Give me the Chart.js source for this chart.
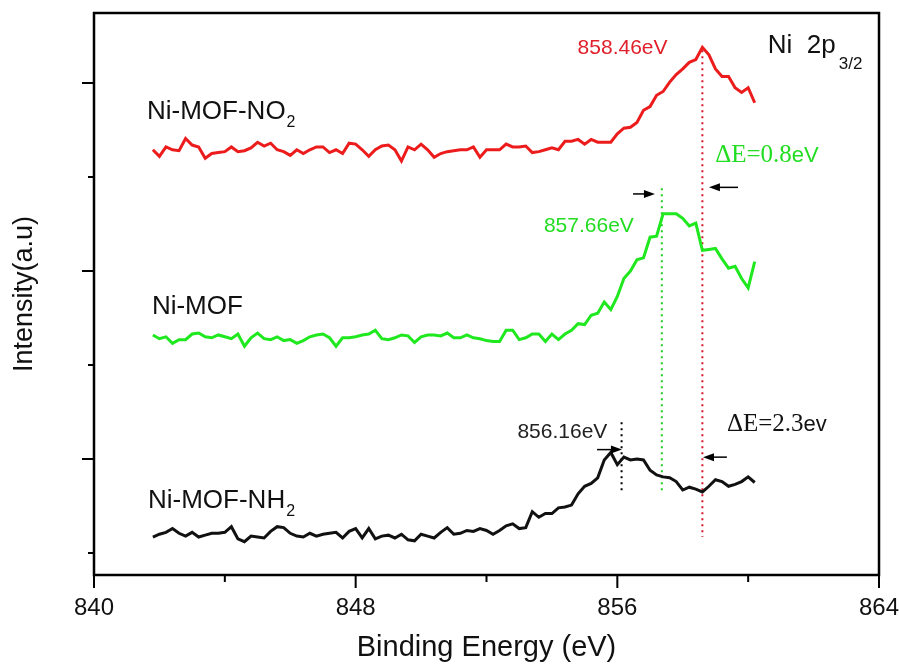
<!DOCTYPE html>
<html>
<head>
<meta charset="utf-8">
<script src="https://cdn.jsdelivr.net/npm/chart.js@4.4.1/dist/chart.umd.min.js"></script>
<style>
  body { margin: 0; background: #fff; }
  #wrap { width: 899px; height: 668px; }
</style>
</head>
<body>
<div id="wrap"><canvas id="xps"></canvas></div>
<script>
// binding energy (eV) of every sample point
const energy = [
  841.8, 842.0, 842.2, 842.4, 842.6, 842.8, 843.0, 843.2, 843.4, 843.6, 843.8,
  844.0, 844.2, 844.4, 844.6, 844.8, 845.0, 845.2, 845.4, 845.6, 845.8,
  846.0, 846.2, 846.4, 846.6, 846.8, 847.0, 847.2, 847.4, 847.6, 847.8,
  848.0, 848.2, 848.4, 848.6, 848.8, 849.0, 849.2, 849.4, 849.6, 849.8,
  850.0, 850.2, 850.4, 850.6, 850.8, 851.0, 851.2, 851.4, 851.6, 851.8,
  852.0, 852.2, 852.4, 852.6, 852.8, 853.0, 853.2, 853.4, 853.6, 853.8,
  854.0, 854.2, 854.4, 854.6, 854.8, 855.0, 855.2, 855.4, 855.6, 855.8,
  856.0, 856.2, 856.4, 856.6, 856.8, 857.0, 857.2, 857.4, 857.6, 857.8,
  858.0, 858.2, 858.4, 858.6, 858.8, 859.0, 859.2, 859.4, 859.6, 859.8,
  860.0, 860.2
];

// Ni-MOF-NO2 (red, stacked on top)
const nio2 = [
  4.29, 4.22, 4.32, 4.29, 4.28, 4.41, 4.34, 4.32, 4.20, 4.25, 4.26,
  4.27, 4.32, 4.27, 4.28, 4.31, 4.37, 4.33, 4.36, 4.29, 4.27,
  4.23, 4.29, 4.25, 4.29, 4.32, 4.32, 4.26, 4.29, 4.25, 4.36,
  4.35, 4.29, 4.22, 4.29, 4.33, 4.34, 4.29, 4.17, 4.32, 4.29,
  4.35, 4.29, 4.21, 4.25, 4.27, 4.28, 4.29, 4.29, 4.32, 4.21,
  4.29, 4.29, 4.29, 4.35, 4.32, 4.32, 4.33, 4.26, 4.27, 4.29,
  4.31, 4.29, 4.38, 4.38, 4.40, 4.35, 4.40, 4.37, 4.37, 4.37,
  4.46, 4.52, 4.53, 4.58, 4.71, 4.75, 4.87, 4.91, 5.01, 5.09,
  5.15, 5.22, 5.25, 5.38, 5.30, 5.15, 5.07, 5.07, 4.95, 4.90,
  4.95, 4.79
];

// Ni-MOF (green, middle)
const nimof = [
  2.32, 2.28, 2.30, 2.23, 2.27, 2.27, 2.33, 2.34, 2.30, 2.29, 2.32,
  2.30, 2.28, 2.33, 2.20, 2.29, 2.34, 2.28, 2.27, 2.30, 2.26,
  2.27, 2.23, 2.26, 2.30, 2.32, 2.33, 2.29, 2.20, 2.29, 2.29,
  2.30, 2.32, 2.33, 2.37, 2.28, 2.27, 2.29, 2.32, 2.31, 2.24,
  2.30, 2.32, 2.32, 2.31, 2.34, 2.29, 2.29, 2.32, 2.29, 2.28,
  2.26, 2.25, 2.25, 2.37, 2.37, 2.27, 2.29, 2.33, 2.33, 2.25,
  2.33, 2.27, 2.33, 2.37, 2.44, 2.43, 2.53, 2.55, 2.67, 2.59,
  2.73, 2.92, 3.00, 3.12, 3.14, 3.36, 3.37, 3.61, 3.61, 3.61,
  3.56, 3.48, 3.51, 3.22, 3.23, 3.24, 3.13, 3.03, 3.05, 2.92,
  2.82, 3.10
];

// Ni-MOF-NH2 (black, bottom)
const nih2 = [
  0.17, 0.20, 0.22, 0.26, 0.21, 0.18, 0.22, 0.17, 0.19, 0.21, 0.21,
  0.22, 0.28, 0.15, 0.12, 0.18, 0.17, 0.16, 0.23, 0.28, 0.27,
  0.21, 0.18, 0.17, 0.21, 0.18, 0.20, 0.21, 0.22, 0.16, 0.23,
  0.26, 0.16, 0.26, 0.15, 0.18, 0.19, 0.16, 0.20, 0.14, 0.13,
  0.20, 0.18, 0.16, 0.22, 0.27, 0.20, 0.21, 0.24, 0.23, 0.26,
  0.24, 0.20, 0.24, 0.29, 0.31, 0.26, 0.27, 0.44, 0.38, 0.42,
  0.42, 0.48, 0.49, 0.51, 0.63, 0.71, 0.74, 0.80, 0.99, 1.07,
  0.94, 1.02, 0.99, 1.00, 0.99, 0.88, 0.83, 0.81, 0.80, 0.76,
  0.67, 0.70, 0.68, 0.65, 0.71, 0.78, 0.76, 0.71, 0.73, 0.76,
  0.81, 0.75
];

// axis ticks
const xTickValues = [840, 844, 848, 852, 856, 860, 864];
const xMajor = [840, 848, 856, 864];
const yTickValues = [0, 1, 2, 3, 4, 5];
const yMajor = [1, 3, 5];

// peak marker lines: energy, from, to
const markerE = [858.6, 857.36, 856.13];
const markerFrom = [5.35, 3.88, 1.39];
const markerTo = [0.17, 0.65, 0.65];
const markerColor = ['#d4182a', '#22cc22', '#000000'];

// arrows [x tail, y tail, x head, y head]
const arrows = [
  [856.48, 3.82, 857.15, 3.82],
  [859.69, 3.89, 858.80, 3.89],
  [855.38, 1.10, 856.14, 1.10],
  [859.35, 1.02, 858.62, 1.02]
];

const curveNames = ['Ni-MOF-NO', 'Ni-MOF', 'Ni-MOF-NH'];
const curveSubs = ['2', '', '2'];
const curveNameAt = [[841.62, 4.62], [841.77, 2.54], [841.65, 0.48]];

const peakText = ['858.46eV', '857.66eV', '856.16eV'];
const peakAt = [[856.16, 5.31], [855.13, 3.41], [854.32, 1.22]];
const peakColor = ['#e0202a', '#22dd22', '#222222'];

const deltaText = ['\u0394E=0.8', '\u0394E=2.3'];
const deltaUnit = ['eV', 'ev'];
const deltaAt = [[858.99, 4.16], [859.35, 1.30]];
const deltaColor = ['#22dd22', '#111111'];

const SANS = '"Liberation Sans", Arial, sans-serif';
const SERIF = '"Liberation Serif", "Times New Roman", serif';

function pts(ys) {
  return ys.map((v, i) => ({ x: energy[i], y: v }));
}

function markerSet(i) {
  return {
    data: [{ x: markerE[i], y: markerFrom[i] }, { x: markerE[i], y: markerTo[i] }],
    borderColor: markerColor[i],
    borderWidth: 2,
    borderDash: [2, 4],
    pointRadius: 0
  };
}

const decor = {
  id: 'decor',
  afterDatasetsDraw(chart) {
    const { ctx, chartArea: a, scales: { x, y } } = chart;
    ctx.save();
    ctx.strokeStyle = '#000';
    ctx.fillStyle = '#000';

    // frame
    ctx.lineWidth = 2.5;
    ctx.strokeRect(a.left, a.top, a.right - a.left, a.bottom - a.top);

    // outside tick marks
    ctx.lineWidth = 2;
    ctx.beginPath();
    xTickValues.forEach(v => {
      const px = x.getPixelForValue(v);
      const len = xMajor.includes(v) ? 13 : 7;
      ctx.moveTo(px, a.bottom);
      ctx.lineTo(px, a.bottom + len);
    });
    yTickValues.forEach(v => {
      const py = y.getPixelForValue(v);
      const len = yMajor.includes(v) ? 12 : 6;
      ctx.moveTo(a.left, py);
      ctx.lineTo(a.left - len, py);
    });
    ctx.stroke();

    // arrows
    arrows.forEach(r => {
      const x1 = x.getPixelForValue(r[0]), y1 = y.getPixelForValue(r[1]);
      const x2 = x.getPixelForValue(r[2]), y2 = y.getPixelForValue(r[3]);
      const dir = Math.sign(x2 - x1);
      ctx.lineWidth = 1.5;
      ctx.beginPath();
      ctx.moveTo(x1, y1);
      ctx.lineTo(x2 - dir * 8, y2);
      ctx.stroke();
      ctx.beginPath();
      ctx.moveTo(x2, y2);
      ctx.lineTo(x2 - dir * 11, y2 - 4);
      ctx.lineTo(x2 - dir * 11, y2 + 4);
      ctx.closePath();
      ctx.fill();
    });

    ctx.textBaseline = 'alphabetic';

    // curve names with subscripts
    curveNames.forEach((t, i) => {
      const px = x.getPixelForValue(curveNameAt[i][0]);
      const py = y.getPixelForValue(curveNameAt[i][1]);
      ctx.fillStyle = '#111';
      ctx.textAlign = 'left';
      ctx.font = '26px ' + SANS;
      ctx.fillText(t, px, py);
      if (curveSubs[i]) {
        const w = ctx.measureText(t).width;
        ctx.font = '16px ' + SANS;
        ctx.fillText(curveSubs[i], px + w + 1, py + 8);
      }
    });

    // peak positions
    peakText.forEach((t, i) => {
      ctx.fillStyle = peakColor[i];
      ctx.textAlign = 'center';
      ctx.font = '21px ' + SANS;
      ctx.fillText(t, x.getPixelForValue(peakAt[i][0]), y.getPixelForValue(peakAt[i][1]));
    });

    // energy shifts
    deltaText.forEach((t, i) => {
      const px = x.getPixelForValue(deltaAt[i][0]);
      const py = y.getPixelForValue(deltaAt[i][1]);
      ctx.fillStyle = deltaColor[i];
      ctx.textAlign = 'left';
      ctx.font = '25px ' + SERIF;
      ctx.fillText(t, px, py);
      const w = ctx.measureText(t).width;
      ctx.font = '22px ' + SANS;
      ctx.fillText(deltaUnit[i], px + w, py);
    });

    // core level
    const nx = x.getPixelForValue(860.6), ny = y.getPixelForValue(5.32);
    ctx.fillStyle = '#111';
    ctx.textAlign = 'left';
    ctx.font = '26px ' + SANS;
    ctx.fillText('Ni  2p', nx, ny);
    const nw = ctx.measureText('Ni  2p').width;
    ctx.font = '17px ' + SANS;
    ctx.fillText('3/2', nx + nw + 3, ny + 16);

    ctx.restore();
  }
};

const config = {
  type: 'line',
  data: {
    datasets: [
      { data: pts(nio2), borderColor: '#ec1c1c', borderWidth: 3, pointRadius: 0 },
      { data: pts(nimof), borderColor: '#1fe81f', borderWidth: 3, pointRadius: 0 },
      { data: pts(nih2), borderColor: '#111111', borderWidth: 3, pointRadius: 0 },
      markerSet(0),
      markerSet(1),
      markerSet(2)
    ]
  },
  options: {
    responsive: true,
    maintainAspectRatio: false,
    animation: false,
    layout: { padding: { top: 13, right: 20, left: 0, bottom: 0 } },
    plugins: { legend: { display: false }, tooltip: { enabled: false } },
    scales: {
      x: {
        type: 'linear',
        min: 840,
        max: 864,
        border: { display: false },
        grid: { display: false, drawTicks: false },
        ticks: {
          stepSize: 4,
          padding: 19,
          color: '#111',
          font: { family: SANS, size: 24 },
          maxRotation: 0,
          callback: v => (xMajor.includes(v) ? String(v) : '')
        },
        title: {
          display: true,
          text: 'Binding Energy (eV)',
          color: '#111',
          font: { family: SANS, size: 29 },
          padding: { top: 2, bottom: 3 }
        },
        afterFit: s => { s.height = 93; s.paddingLeft = 0; s.paddingRight = 0; }
      },
      y: {
        min: -0.234,
        max: 5.745,
        border: { display: false },
        grid: { display: false, drawTicks: false },
        ticks: { display: false },
        title: {
          display: true,
          text: 'Intensity(a.u)',
          color: '#111',
          font: { family: SANS, size: 27 },
          padding: { top: 8, bottom: 0 }
        },
        afterFit: s => { s.width = 94; s.paddingTop = 0; s.paddingBottom = 0; }
      }
    }
  },
  plugins: [decor]
};

new Chart(document.getElementById('xps').getContext('2d'), config);
</script>
</body>
</html>
